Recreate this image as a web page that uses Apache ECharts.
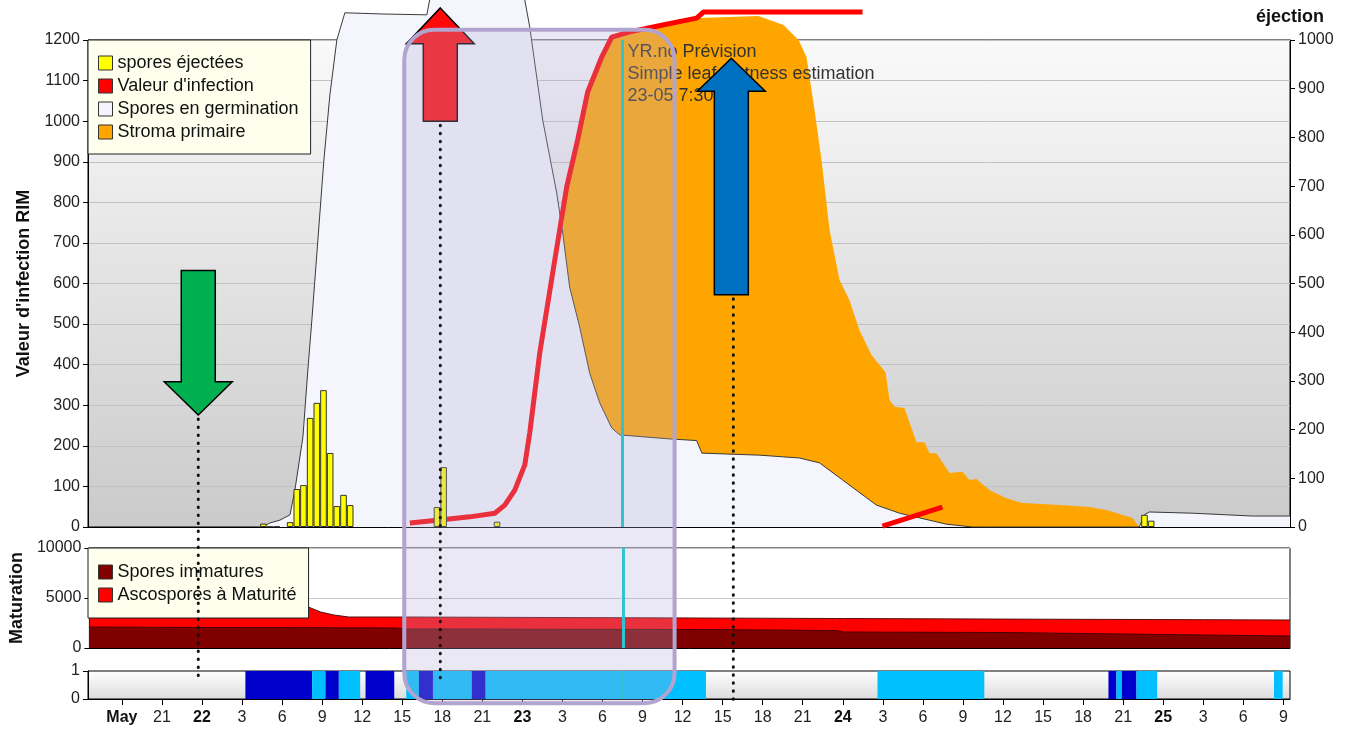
<!DOCTYPE html>
<html>
<head>
<meta charset="utf-8">
<script src="https://cdn.jsdelivr.net/npm/echarts@6/dist/echarts.min.js"></script>
<style>
html,body{margin:0;padding:0;background:#fff;}
#main{width:1352px;height:731px;}
</style>
</head>
<body>
<div id="main"></div>
<script>
// ---- time axis (hours relative to 22 May 00:00) ----
const XMIN = -8.54, XMAX = 81.5;
const TICK_HOURS = [-6,-3,0,3,6,9,12,15,18,21,24,27,30,33,36,39,42,45,48,51,54,57,60,63,66,69,72,75,78,81];
const TICK_LABELS = ['May','21','22','3','6','9','12','15','18','21','23','3','6','9','12','15','18','21','24','3','6','9','12','15','18','21','25','3','6','9'];
const TICK_BOLD = [true,false,true,false,false,false,false,false,false,false,true,false,false,false,false,false,false,false,true,false,false,false,false,false,false,false,true,false,false,false];

// ---- spores éjectées (right axis) ----
const SPORE_H = [4.6, 5.1, 5.6, 6.6, 7.1, 7.6, 8.1, 8.6, 9.1, 9.6, 10.1, 10.6, 11.1, 17.6, 18.1, 22.1, 70.6, 71.1];
const SPORE_V = [7, 1, 1, 10, 78, 86, 224, 255, 281, 152, 43, 66, 45, 41, 123, 11, 25, 13];

// ---- Valeur d'infection (left axis) ----
const INF_H = [15.57, 17.81, 20.06, 21.93, 22.68, 23.43, 24.18, 24.55, 25.30, 26.27, 27.32, 28.14, 28.89, 29.94, 30.69, 32.04, 34.51, 37.05, 37.57, 49.48, 50.2, 50.97, 55.46];
const INF_V = [10, 17, 25, 34, 54, 91, 153, 232, 429, 626, 838, 954, 1072, 1158, 1207, 1220, 1237, 1254, 1269, 1269, null, 2, 49];

// ---- Spores en germination (left axis) ----
const GERM_H = [4.49, 5.09, 5.84, 6.59, 6.96, 7.56, 7.93, 8.23, 8.68, 9.13, 9.58, 10.10, 10.70, 13.62, 16.84, 17.29, 23.95, 24.55, 25.52, 26.57, 27.02, 27.54, 28.29, 29.04, 29.79, 30.69, 31.29, 35.03, 37.05, 37.45, 41.77, 44.76, 46.26, 47.98, 50.52, 52.25, 55.76, 57.71, 70.21, 70.58, 70.96, 74.18, 78.67, 81.5];
const GERM_V = [0, 10, 17, 30, 91, 222, 387, 510, 707, 904, 1065, 1200, 1267, 1264, 1262, 1340, 1340, 1232, 1003, 823, 724, 591, 493, 379, 306, 244, 227, 217, 213, 182, 177, 170, 158, 116, 54, 34, 7, 0, 0, 30, 37, 34, 27, 27];

// ---- Stroma primaire (left axis) ----
const STROMA_H = [25.97, 27.02, 27.32, 28.14, 28.89, 29.94, 30.69, 32.11, 37.20, 41.69, 43.56, 44.69, 45.28, 45.88, 46.41, 47.01, 47.75, 48.50, 49.25, 50.15, 50.75, 51.20, 51.50, 51.87, 52.62, 53.52, 54.12, 54.49, 55.01, 55.99, 56.96, 57.49, 58.01, 58.98, 60.25, 61.45, 64.22, 66.47, 67.74, 69.69, 70.21];
const STROMA_V = [0, 724, 830, 929, 1065, 1151, 1207, 1220, 1254, 1259, 1237, 1200, 1158, 1028, 904, 732, 609, 559, 485, 424, 399, 382, 313, 296, 293, 209, 209, 182, 182, 133, 136, 116, 118, 91, 71, 59, 54, 49, 42, 22, 0];

// ---- Maturation ----
const MAT_H = [-8.54, 0, 6.5, 7.3, 7.7, 8.8, 9.8, 10.9, 14.5, 15.2, 37, 47.5, 48, 60, 75, 81.5];
const IMMATURE = [2100, 2050, 2040, 2030, 2030, 2030, 2020, 2015, 2000, 1900, 1850, 1750, 1600, 1550, 1300, 1200];
const MATURE = [1000, 1050, 1060, 2270, 2170, 1570, 1280, 1085, 1100, 1200, 1150, 1200, 1350, 1340, 1530, 1600];

// ---- leaf wetness strip ----
const WET_START = [3.25, 8.25, 9.25, 10.25, 12.25, 15.3, 16.25, 17.3, 20.2, 21.25, 50.6, 67.9, 68.5, 68.9, 70.0, 80.3];
const WET_END   = [8.25, 9.25, 10.25, 11.85, 14.4, 16.25, 17.3, 20.2, 21.25, 37.75, 58.6, 68.5, 68.9, 70.0, 71.55, 80.95];
const WET_LEVEL = [2, 1, 2, 1, 2, 1, 2, 1, 2, 1, 1, 2, 1, 2, 1, 1];

const FORECAST_H = 31.5;

const FONT = 'Liberation Sans, Arial, sans-serif';
const zip = (a, b) => a.map((x, i) => [x, b[i] === null ? '-' : b[i]]);
// mature ascospores are drawn on top of the immature ones (cumulative outline)
const MAT_TOP = IMMATURE.map((v, i) => v + MATURE[i]);

const chart = echarts.init(document.getElementById('main'));

const baseX = (gi) => ({
  type: 'value', gridIndex: gi, min: XMIN, max: XMAX,
  axisLine: {show: true, onZero: false, lineStyle: {color: '#000'}},
  axisTick: {show: false}, axisLabel: {show: false}, splitLine: {show: false}
});
const plain = (v) => String(v);

const cyanLine = {
  silent: true, symbol: ['none', 'none'], label: {show: false},
  lineStyle: {color: '#00cccc', width: 3, type: 'solid'},
  data: [{xAxis: FORECAST_H}]
};

const legendCommon = {
  orient: 'vertical', left: 88, icon: 'rect', itemWidth: 14, itemHeight: 14, itemGap: 5,
  backgroundColor: '#ffffee', borderColor: '#222', borderWidth: 1, selectedMode: false,
  itemStyle: {borderColor: '#333', borderWidth: 1},
  textStyle: {fontSize: 18, color: '#111', fontFamily: FONT}
};

const option = {
  animation: false,
  textStyle: {fontFamily: FONT},
  grid: [
    {left: 88, right: 62, top: 40, height: 487, show: true, borderColor: '#000', borderWidth: 1,
     backgroundColor: new echarts.graphic.LinearGradient(0, 0, 0, 1, [{offset: 0, color: '#fafafa'}, {offset: 1, color: '#cacaca'}])},
    {left: 88, right: 62, top: 548, height: 100, show: true, borderColor: '#000', borderWidth: 1, backgroundColor: '#fff'},
    {left: 88, right: 62, top: 671, height: 28, show: true, borderColor: '#000', borderWidth: 1,
     backgroundColor: new echarts.graphic.LinearGradient(0, 0, 0, 1, [{offset: 0, color: '#ffffff'}, {offset: 1, color: '#dcdcdc'}])}
  ],
  legend: [
    Object.assign({}, legendCommon, {
      top: 40, padding: [14, 12, 13, 10],
      data: [
        {name: 'spores éjectées', itemStyle: {color: '#ffff00'}},
        {name: "Valeur d'infection", itemStyle: {color: '#ff0000'}},
        {name: 'Spores en germination', itemStyle: {color: '#f4f4ff'}},
        {name: 'Stroma primaire', itemStyle: {color: '#ffa500'}}
      ]
    }),
    Object.assign({}, legendCommon, {
      top: 548, padding: [15, 12, 14, 10],
      data: [
        {name: 'Spores immatures', itemStyle: {color: '#800000'}},
        {name: 'Ascospores à Maturité', itemStyle: {color: '#ff0000'}}
      ]
    })
  ],
  xAxis: [
    baseX(0), baseX(1),
    Object.assign(baseX(2), {
      axisTick: {show: true, customValues: TICK_HOURS, length: 6, lineStyle: {color: '#000'}},
      axisLabel: {
        show: true, customValues: TICK_HOURS, fontSize: 16, color: '#222', margin: 11, fontFamily: FONT,
        formatter: (v) => {
          const i = TICK_HOURS.findIndex(t => Math.abs(t - v) < 1e-6);
          if (i < 0) return '';
          return TICK_BOLD[i] ? '{b|' + TICK_LABELS[i] + '}' : TICK_LABELS[i];
        },
        rich: {b: {fontWeight: 'bold', fontSize: 16, color: '#111', fontFamily: FONT}}
      }
    })
  ],
  yAxis: [
    {type: 'value', gridIndex: 0, position: 'left', min: 0, max: 1200, interval: 100,
     axisLine: {show: true, onZero: false, lineStyle: {color: '#000'}}, axisTick: {show: true, length: 5, lineStyle: {color: '#000'}},
     axisLabel: {fontSize: 16, color: '#222', fontFamily: FONT, formatter: plain},
     splitLine: {show: true, lineStyle: {color: '#c2c2c2'}},
     name: "Valeur d'infection RIM", nameLocation: 'middle', nameGap: 50,
     nameTextStyle: {fontWeight: 'bold', fontSize: 18, color: '#111', fontFamily: FONT}},
    {type: 'value', gridIndex: 0, position: 'right', min: 0, max: 1000, interval: 100,
     axisLine: {show: true, onZero: false, lineStyle: {color: '#000'}}, axisTick: {show: true, length: 5, lineStyle: {color: '#000'}},
     axisLabel: {fontSize: 16, color: '#222', fontFamily: FONT, formatter: plain}, splitLine: {show: false},
     name: 'éjection', nameLocation: 'end', nameGap: 14,
     nameTextStyle: {fontWeight: 'bold', fontSize: 18, color: '#111', fontFamily: FONT}},
    {type: 'value', gridIndex: 1, min: 0, max: 10000, interval: 5000,
     axisLine: {show: true, onZero: false, lineStyle: {color: '#000'}}, axisTick: {show: true, length: 5, lineStyle: {color: '#000'}},
     axisLabel: {fontSize: 16, color: '#222', fontFamily: FONT, formatter: plain},
     splitLine: {show: true, lineStyle: {color: '#c8c8c8'}},
     name: 'Maturation', nameLocation: 'middle', nameGap: 62,
     nameTextStyle: {fontWeight: 'bold', fontSize: 18, color: '#111', fontFamily: FONT}},
    {type: 'value', gridIndex: 2, min: 0, max: 1, interval: 1,
     axisLine: {show: true, onZero: false, lineStyle: {color: '#000'}}, axisTick: {show: true, length: 5, lineStyle: {color: '#000'}},
     axisLabel: {fontSize: 16, color: '#222', fontFamily: FONT, formatter: plain}, splitLine: {show: false}}
  ],
  series: [
    {name: 'Stroma primaire', type: 'line', xAxisIndex: 0, yAxisIndex: 0, clip: false, z: 2,
     data: zip(STROMA_H, STROMA_V), showSymbol: false, symbol: 'none',
     lineStyle: {width: 0, color: '#ffa500'}, areaStyle: {color: '#ffa500', opacity: 1}, itemStyle: {color: '#ffa500'}},
    {name: 'Spores en germination', type: 'line', xAxisIndex: 0, yAxisIndex: 0, clip: false, z: 3,
     data: zip(GERM_H, GERM_V), showSymbol: false, symbol: 'none',
     lineStyle: {width: 1, color: '#3a3a3a'}, areaStyle: {color: '#f5f6fd', opacity: 1}, itemStyle: {color: '#f4f4ff'}},
    {name: "Valeur d'infection", type: 'line', xAxisIndex: 0, yAxisIndex: 0, clip: false, z: 4,
     data: zip(INF_H, INF_V), showSymbol: false, symbol: 'none', connectNulls: false,
     lineStyle: {width: 5, color: '#ff0000'}, itemStyle: {color: '#ff0000'}},
    {name: 'spores éjectées', type: 'bar', xAxisIndex: 0, yAxisIndex: 1, z: 5,
     data: zip(SPORE_H, SPORE_V), barWidth: 6.6,
     itemStyle: {color: '#ffff00', borderColor: '#333', borderWidth: 1},
     markLine: cyanLine},
    {name: 'Ascospores à Maturité', type: 'line', xAxisIndex: 1, yAxisIndex: 2, z: 2,
     data: zip(MAT_H, MAT_TOP), showSymbol: false, symbol: 'none',
     lineStyle: {width: 1, color: '#5a1010'}, areaStyle: {color: '#ff0000', opacity: 1}, itemStyle: {color: '#ff0000'}},
    {name: 'Spores immatures', type: 'line', xAxisIndex: 1, yAxisIndex: 2, z: 3,
     data: zip(MAT_H, IMMATURE), showSymbol: false, symbol: 'none',
     lineStyle: {width: 1, color: '#4a0000'}, areaStyle: {color: '#800000', opacity: 1}, itemStyle: {color: '#800000'},
     markLine: cyanLine},
    {name: 'wetness', type: 'custom', xAxisIndex: 2, yAxisIndex: 3,
     data: WET_START.map((s, i) => [s, WET_END[i], WET_LEVEL[i]]),
     encode: {x: [0, 1], y: 2},
     renderItem: (params, api) => {
       const p0 = api.coord([api.value(0), 1]);
       const p1 = api.coord([api.value(1), 0]);
       return {type: 'rect', shape: {x: p0[0], y: p0[1], width: p1[0] - p0[0], height: p1[1] - p0[1]},
               style: {fill: api.value(2) === 2 ? '#0000cc' : '#00bfff'}};
     },
     markLine: cyanLine}
  ]
};

chart.setOption(option);

// ---- annotations, positioned in data coordinates of the main panel ----
const ANN = {
  green: {h: -0.28, top: 632, base: 358, tip: 276},
  red: {h: 17.85, tip: 1279, base: 1191, bottom: 1000},
  blue: {h: 39.65, tip: 1155, base: 1074, bottom: 572},
  dots: [{h: -0.28, from: 276, to: -382}, {h: 17.85, from: 1000, to: -377}, {h: 39.8, from: 572, to: -426}],
  box: {h0: 15.15, v0: 1225, h1: 35.4, v1: -434}
};
const P = (h, v) => chart.convertToPixel({xAxisIndex: 0, yAxisIndex: 0}, [h, v]);
const SHAFT = 17, HEAD = 34;

function upArrow(a) {
  const c = P(a.h, a.tip), b = P(a.h, a.base), s = P(a.h, a.bottom);
  const x = c[0];
  return [[x, c[1]], [x + HEAD, b[1]], [x + SHAFT, b[1]], [x + SHAFT, s[1]], [x - SHAFT, s[1]], [x - SHAFT, b[1]], [x - HEAD, b[1]]];
}
function downArrow(a) {
  const t = P(a.h, a.top), b = P(a.h, a.base), tip = P(a.h, a.tip);
  const x = t[0];
  return [[x - SHAFT, t[1]], [x + SHAFT, t[1]], [x + SHAFT, b[1]], [x + HEAD, b[1]], [x, tip[1]], [x - HEAD, b[1]], [x - SHAFT, b[1]]];
}

const bx0 = P(ANN.box.h0, ANN.box.v0), bx1 = P(ANN.box.h1, ANN.box.v1);
const tp = P(FORECAST_H, 1200);
const graphics = [];
graphics.push({type: 'text', z: 100, style: {text: 'YR.no Prévision\nSimple leaf wetness estimation\n23-05 7:30',
  x: tp[0] + 5, y: tp[1] + 1, font: '18px ' + FONT, fill: '#333', lineHeight: 22}});
graphics.push({type: 'polygon', z: 101, shape: {points: upArrow(ANN.red)}, style: {fill: '#ff0a0a', stroke: '#000', lineWidth: 1.5}});
graphics.push({type: 'rect', z: 102, shape: {x: bx0[0], y: bx0[1], width: bx1[0] - bx0[0], height: bx1[1] - bx0[1], r: 30},
  style: {fill: 'rgba(175,171,214,0.28)', stroke: '#b2a4cf', lineWidth: 4}});
graphics.push({type: 'polygon', z: 103, shape: {points: upArrow(ANN.blue)}, style: {fill: '#0070c0', stroke: '#000', lineWidth: 1.5}});
graphics.push({type: 'polygon', z: 103, shape: {points: downArrow(ANN.green)}, style: {fill: '#00b050', stroke: '#000', lineWidth: 1.5}});
ANN.dots.forEach(d => {
  const a = P(d.h, d.from), b = P(d.h, d.to);
  graphics.push({type: 'line', z: 104, shape: {x1: a[0], y1: a[1] + 4, x2: a[0], y2: b[1]},
    style: {stroke: '#111', lineWidth: 3, lineDash: [0.5, 7.5], lineCap: 'round'}});
});
chart.setOption({graphic: graphics});
</script>
</body>
</html>
